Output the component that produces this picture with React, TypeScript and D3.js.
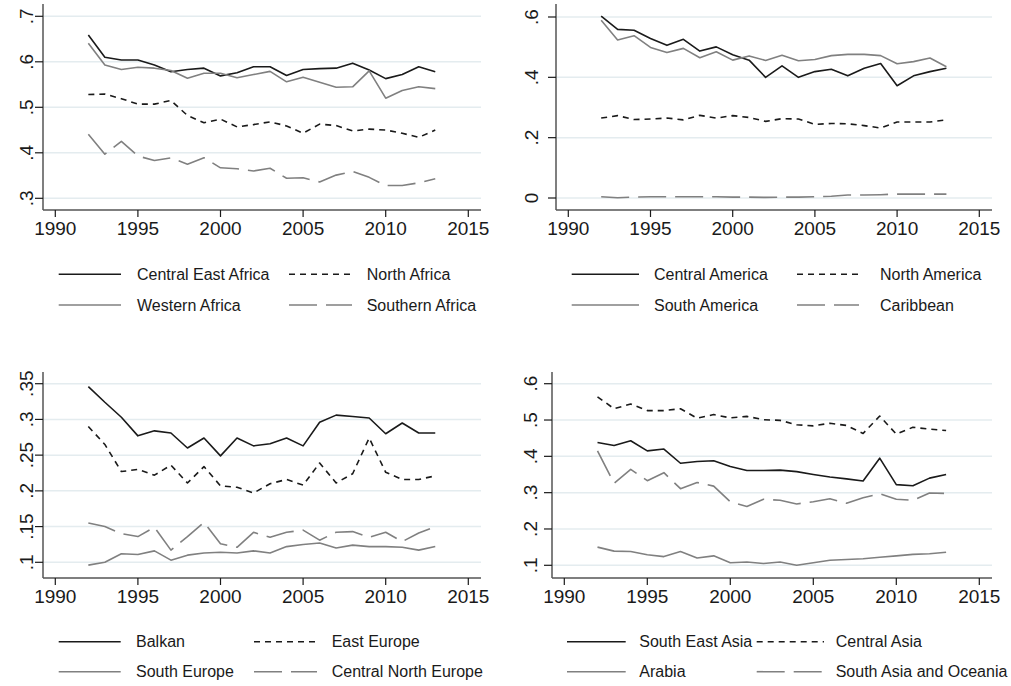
import React from "react";
import * as d3 from "d3";

const years = [1992,1993,1994,1995,1996,1997,1998,1999,2000,2001,2002,2003,2004,2005,2006,2007,2008,2009,2010,2011,2012,2013];
const xTicks = [1990, 1995, 2000, 2005, 2010, 2015];

// Panel 1: Africa
const centralEastAfrica = [.659,.610,.604,.604,.593,.578,.583,.586,.569,.576,.589,.589,.570,.583,.585,.586,.597,.582,.563,.572,.589,.578];
const northAfrica = [.528,.529,.519,.507,.507,.515,.482,.466,.474,.457,.462,.468,.459,.443,.463,.460,.448,.452,.450,.443,.434,.450];
const westernAfrica = [.641,.593,.583,.588,.586,.581,.564,.575,.575,.565,.572,.579,.556,.566,.555,.544,.545,.580,.520,.537,.545,.541];
const southernAfrica = [.441,.397,.425,.393,.383,.389,.375,.389,.367,.365,.360,.366,.344,.345,.336,.351,.359,.346,.328,.328,.334,.343];
const africaTicks = [.3, .4, .5, .6, .7];
const africaTickLabels = [".3", ".4", ".5", ".6", ".7"];

// Panel 2: Americas
const centralAmerica = [.603,.559,.556,.529,.506,.526,.487,.501,.475,.457,.400,.438,.400,.419,.427,.405,.430,.446,.372,.405,.419,.430];
const northAmerica = [.265,.273,.260,.262,.265,.259,.274,.265,.273,.267,.254,.263,.262,.244,.247,.246,.240,.232,.252,.252,.252,.259];
const southAmerica = [.589,.524,.538,.499,.482,.496,.465,.485,.457,.471,.456,.473,.455,.459,.472,.476,.476,.472,.445,.452,.464,.435];
const caribbean = [.004,.001,.003,.004,.004,.004,.004,.004,.003,.003,.002,.003,.003,.004,.006,.010,.010,.011,.013,.013,.013,.013];
const americaTicks = [0, .2, .4, .6];
const americaTickLabels = ["0", ".2", ".4", ".6"];

// Panel 3: Europe
const balkan = [.346,.324,.303,.277,.284,.281,.260,.274,.249,.274,.263,.266,.274,.263,.296,.306,.304,.302,.280,.295,.281,.281];
const eastEurope = [.290,.265,.227,.230,.222,.236,.211,.234,.207,.205,.197,.210,.216,.208,.239,.211,.224,.274,.226,.216,.216,.221];
const southEurope = [.096,.100,.112,.111,.116,.103,.110,.113,.114,.113,.116,.113,.122,.125,.127,.120,.124,.122,.122,.121,.117,.122];
const centralNorthEurope = [.155,.150,.140,.136,.149,.117,.136,.156,.126,.121,.142,.135,.142,.145,.131,.142,.143,.135,.142,.129,.141,.150];
const europeTicks = [.1, .15, .2, .25, .3, .35];
const europeTickLabels = [".1", ".15", ".2", ".25", ".3", ".35"];

// Panel 4: Asia
const southEastAsia = [.438,.430,.443,.415,.420,.381,.386,.388,.372,.361,.361,.362,.358,.350,.343,.338,.332,.395,.322,.319,.340,.350];
const centralAsia = [.564,.531,.544,.526,.526,.531,.505,.515,.506,.510,.501,.499,.487,.484,.491,.485,.463,.511,.461,.480,.475,.471];
const arabia = [.150,.139,.138,.129,.124,.138,.120,.126,.107,.109,.105,.109,.100,.107,.114,.116,.118,.122,.126,.130,.132,.136];
const southAsiaOceania = [.415,.326,.364,.333,.355,.311,.328,.318,.275,.262,.282,.279,.269,.275,.283,.271,.286,.297,.282,.279,.299,.298];
const asiaTicks = [.1, .2, .3, .4, .5, .6];
const asiaTickLabels = [".1", ".2", ".3", ".4", ".5", ".6"];

const FONT = "'Liberation Sans', Arial, Helvetica, sans-serif";
const BLACK = "#1a1a1a";
const GRAY = "#808080";
const GRID = "#e4ecef";
const AXIS = "#555555";

type StyleKey = "solid" | "dash" | "solidGray" | "longdash";
const styles: Record<StyleKey, { stroke: string; dash?: string }> = {
  solid: { stroke: BLACK },
  dash: { stroke: BLACK, dash: "6,5" },
  solidGray: { stroke: GRAY },
  longdash: { stroke: GRAY, dash: "28,9" },
};

interface Series { name: string; values: number[]; style: StyleKey }
interface Panel {
  series: Series[];
  ticks: number[];
  tickLabels: string[];
  yDomain: [number, number];
  yRange: [number, number];
  xRange: [number, number];
  left: number; right: number; top: number; bottom: number;
  labelX: number;
  legend: { col1Line: [number, number]; col1Text: number; col2Line: [number, number]; col2Text: number; row1: number; row2: number };
}

const panels: Panel[] = [
  {
    series: [
      { name: "Central East Africa", values: centralEastAfrica, style: "solid" },
      { name: "North Africa", values: northAfrica, style: "dash" },
      { name: "Western Africa", values: westernAfrica, style: "solidGray" },
      { name: "Southern Africa", values: southernAfrica, style: "longdash" },
    ],
    ticks: africaTicks, tickLabels: africaTickLabels,
    yDomain: [.3, .7], yRange: [198.3, 16.3], xRange: [55.3, 468.3],
    left: 43, right: 481, top: 4, bottom: 210, labelX: 33,
    legend: { col1Line: [58.7, 121], col1Text: 137, col2Line: [289, 352], col2Text: 366.7, row1: 274.3, row2: 305 },
  },
  {
    series: [
      { name: "Central America", values: centralAmerica, style: "solid" },
      { name: "North America", values: northAmerica, style: "dash" },
      { name: "South America", values: southAmerica, style: "solidGray" },
      { name: "Caribbean", values: caribbean, style: "longdash" },
    ],
    ticks: americaTicks, tickLabels: americaTickLabels,
    yDomain: [0, .6], yRange: [198, 17], xRange: [568.3, 979.3],
    left: 556, right: 992, top: 4, bottom: 210, labelX: 538,
    legend: { col1Line: [571.7, 639], col1Text: 654, col2Line: [797, 859], col2Text: 880, row1: 274.3, row2: 305 },
  },
  {
    series: [
      { name: "Balkan", values: balkan, style: "solid" },
      { name: "East Europe", values: eastEurope, style: "dash" },
      { name: "South Europe", values: southEurope, style: "solidGray" },
      { name: "Central North Europe", values: centralNorthEurope, style: "longdash" },
    ],
    ticks: europeTicks, tickLabels: europeTickLabels,
    yDomain: [.1, .35], yRange: [562.3, 383.7], xRange: [55.3, 468.3],
    left: 43, right: 481, top: 372, bottom: 578, labelX: 33,
    legend: { col1Line: [58.7, 120.7], col1Text: 136, col2Line: [254, 317], col2Text: 331.7, row1: 641.7, row2: 671.7 },
  },
  {
    series: [
      { name: "South East Asia", values: southEastAsia, style: "solid" },
      { name: "Central Asia", values: centralAsia, style: "dash" },
      { name: "Arabia", values: arabia, style: "solidGray" },
      { name: "South Asia and Oceania", values: southAsiaOceania, style: "longdash" },
    ],
    ticks: asiaTicks, tickLabels: asiaTickLabels,
    yDomain: [.1, .6], yRange: [565.3, 383.7], xRange: [564.3, 979.3],
    left: 552, right: 992, top: 372, bottom: 578, labelX: 537,
    legend: { col1Line: [567, 625.7], col1Text: 639.3, col2Line: [756.7, 824], col2Text: 835.7, row1: 641.7, row2: 671.7 },
  },
];

function PanelView({ p }: { p: Panel }) {
  const x = d3.scaleLinear().domain([1990, 2015]).range(p.xRange);
  const y = d3.scaleLinear().domain(p.yDomain).range(p.yRange);
  const line = d3.line<number>().x((_, i) => x(years[i])).y((v) => y(v));
  const lg = p.legend;
  const legendItems = [
    { s: p.series[0], line: lg.col1Line, tx: lg.col1Text, ry: lg.row1 },
    { s: p.series[1], line: lg.col2Line, tx: lg.col2Text, ry: lg.row1 },
    { s: p.series[2], line: lg.col1Line, tx: lg.col1Text, ry: lg.row2 },
    { s: p.series[3], line: lg.col2Line, tx: lg.col2Text, ry: lg.row2 },
  ];
  return (
    <g>
      {p.ticks.map((t) => (
        <line key={"g" + t} x1={p.left} x2={p.right} y1={y(t)} y2={y(t)} stroke={GRID} strokeWidth={1.5} />
      ))}
      {p.series.map((s) => (
        <path key={s.name} d={line(s.values) || ""} fill="none" stroke={styles[s.style].stroke}
          strokeWidth={1.6} strokeDasharray={styles[s.style].dash} strokeLinejoin="round" />
      ))}
      <line x1={p.left} x2={p.left} y1={p.top} y2={p.bottom} stroke={AXIS} strokeWidth={1.5} />
      <line x1={p.left} x2={p.right} y1={p.bottom} y2={p.bottom} stroke={AXIS} strokeWidth={1.5} />
      {p.ticks.map((t, i) => (
        <g key={"yt" + t}>
          <line x1={p.left - 8} x2={p.left} y1={y(t)} y2={y(t)} stroke={BLACK} strokeWidth={1.2} />
          <text transform={`translate(${p.labelX},${y(t)}) rotate(-90)`} textAnchor="middle"
            fontFamily={FONT} fontSize={19} fill={BLACK}>{p.tickLabels[i]}</text>
        </g>
      ))}
      {xTicks.map((t) => (
        <g key={"xt" + t}>
          <line x1={x(t)} x2={x(t)} y1={p.bottom} y2={p.bottom + 7} stroke={BLACK} strokeWidth={1.2} />
          <text x={x(t)} y={p.bottom + 25} textAnchor="middle" fontFamily={FONT} fontSize={19} fill={BLACK}>{t}</text>
        </g>
      ))}
      {legendItems.map((it) => (
        <g key={"lg" + it.s.name}>
          <line x1={it.line[0]} x2={it.line[1]} y1={it.ry} y2={it.ry} stroke={styles[it.s.style].stroke}
            strokeWidth={1.6} strokeDasharray={styles[it.s.style].dash} />
          <text x={it.tx} y={it.ry + 5.7} fontFamily={FONT} fontSize={16} fill={BLACK}>{it.s.name}</text>
        </g>
      ))}
    </g>
  );
}

export default function App() {
  return (
    <svg width={1011} height={686} style={{ position: "absolute", left: 0, top: 0, background: "#fff" }}>
      <rect width={1011} height={686} fill="#fff" />
      {panels.map((p, i) => <PanelView key={i} p={p} />)}
    </svg>
  );
}
